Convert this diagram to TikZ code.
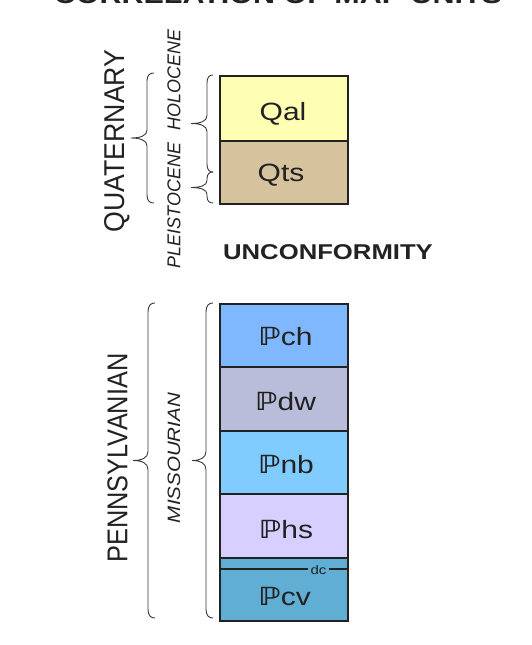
\documentclass[tikz,border=0pt]{standalone}
\usepackage{fontspec}
\setmainfont{Liberation Sans}
\newfontfamily\djfont{DejaVu Sans}
\definecolor{cQal}{HTML}{FFFFB4}
\definecolor{cQts}{HTML}{D6C39E}
\definecolor{cPch}{HTML}{7FB8FF}
\definecolor{cPdw}{HTML}{BABDD9}
\definecolor{cPnb}{HTML}{80CCFF}
\definecolor{cPhs}{HTML}{D7CFFF}
\definecolor{cPcv}{HTML}{61AED5}
\definecolor{ink}{HTML}{222222}
\definecolor{braceink}{HTML}{3A3A3A}
\newcommand\penn{{\djfont\bfseries ℙ}}
\newcommand\hx[1]{\scalebox{1.2}[1]{#1}}
% geologic brace: x of ends, y top, y bottom, amplitude, stem offset, curl length
\newcommand\gbrace[6]{%
  \draw[bracestyle] (#1,#2)
    .. controls ({#1-0.6*#5},#2) and ({#1-#5},{#2+0.25*#6}) .. ({#1-#5},{#2+#6})
    -- ({#1-#5},{(#2+#3)/2-#6})
    .. controls ({#1-#5},{(#2+#3)/2-0.3*#6}) and ({#1-#5-0.4*(#4-#5)},{(#2+#3)/2}) .. ({#1-#4},{(#2+#3)/2})
    .. controls ({#1-#5-0.4*(#4-#5)},{(#2+#3)/2}) and ({#1-#5},{(#2+#3)/2+0.3*#6}) .. ({#1-#5},{(#2+#3)/2+#6})
    -- ({#1-#5},{#3-#6})
    .. controls ({#1-#5},{#3-0.25*#6}) and ({#1-0.6*#5},#3) .. (#1,#3);}
\begin{document}
\begin{tikzpicture}[x=1pt,y=-1pt,
  unitbox/.style={draw=ink, line width=2.2pt, minimum width=127.5pt, inner sep=0pt, anchor=north west},
  unitlbl/.style={font=\fontsize{25}{30}\selectfont, text=ink, anchor=base, inner sep=0pt},
  bracestyle/.style={draw=braceink, line width=0.9pt},
  vlabel/.style={rotate=90, inner sep=0pt, text=ink}]
\useasboundingbox (0,0) rectangle (531,645);
\clip (0,0) rectangle (531,645);
\fill[white] (0,0) rectangle (531,645);

% title (cut off at the top)
\node[anchor=base, inner sep=0pt, text=ink, font=\bfseries\fontsize{25.4}{30}\selectfont] (title) at (278,3) {\hx{CORRELATION OF MAP UNITS}};

% Quaternary units
\node[unitbox, fill=cQal, minimum height=64.5pt] (qal) at (219,75) {};
\node[unitbox, fill=cQts, minimum height=63.5pt] (qts) at (219,139.5) {};
\node[unitlbl] (lqal) at (283,120) {\hx{Qal}};
\node[unitlbl] (lqts) at (281,181.5) {\hx{Qts}};

% unconformity
\node[anchor=base, inner sep=0pt, text=ink, font=\bfseries\fontsize{21.4}{26}\selectfont] (unconf) at (328,259.3) {\hx{UNCONFORMITY}};

% Pennsylvanian units
\node[unitbox, fill=cPch, minimum height=63pt] (pch) at (219,303) {};
\node[unitbox, fill=cPdw, minimum height=63.5pt] (pdw) at (219,366) {};
\node[unitbox, fill=cPnb, minimum height=63.5pt] (pnb) at (219,429.5) {};
\node[unitbox, fill=cPhs, minimum height=64pt] (phs) at (219,493) {};
\node[unitbox, fill=cPcv, minimum height=63pt] (pcv) at (219,557) {};
\node[unitlbl] (lpch) at (285.5,345) {\hx{\penn ch}};
\node[unitlbl] (lpdw) at (285.5,410) {\hx{\penn dw}};
\node[unitlbl] (lpnb) at (286,473) {\hx{\penn nb}};
\node[unitlbl] (lphs) at (286,538) {\hx{\penn hs}};
\node[unitlbl] (lpcv) at (284.5,605) {\hx{\penn cv}};

% dc contact line
\coordinate (dcL) at (219,569);
\coordinate (dcR) at (346.5,569);
\draw[ink, line width=1.1pt] (dcL) -- (dcR);
\node[fill=cPcv, inner xsep=2.5pt, inner ysep=1pt, anchor=base, text=ink, font=\fontsize{12.5}{14}\selectfont] (dc) at (318.5,574) {\hx{dc}};

% braces
\gbrace{154}{73}{203}{23}{7}{8}
\gbrace{213}{75}{172}{22}{6}{8}
\gbrace{213}{172}{203}{22}{6}{7}
\gbrace{155}{303}{618}{22}{7}{9}
\gbrace{213}{303}{618}{21}{7}{9}

% vertical labels
\node[vlabel] (quat) at (117.5,141) {\resizebox{183pt}{20pt}{QUATERNARY}};
\node[vlabel] (epochs) at (174,149) {\resizebox{238pt}{13pt}{\itshape PLEISTOCENE\hspace{0.7em}HOLOCENE}};
\node[vlabel] (pennl) at (117.5,458) {\resizebox{209pt}{20pt}{PENNSYLVANIAN}};
\node[vlabel] (miss) at (174,458) {\resizebox{130pt}{12.5pt}{\itshape MISSOURIAN}};
\end{tikzpicture}
\end{document}
